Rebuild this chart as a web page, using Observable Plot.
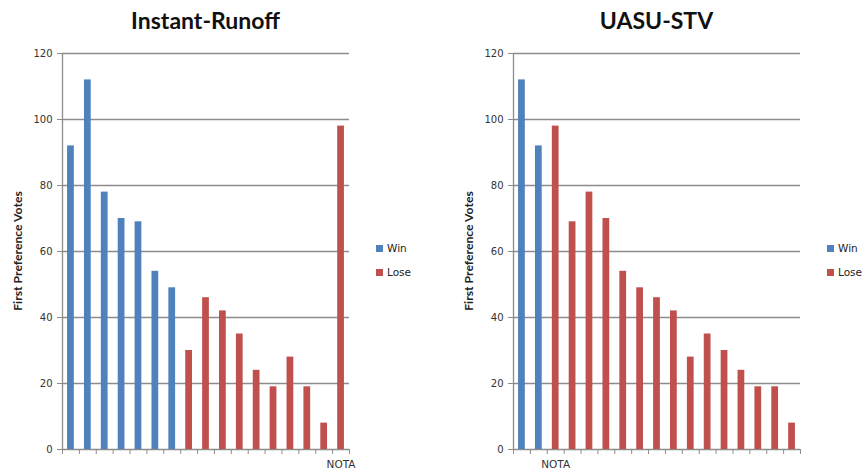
<!DOCTYPE html>
<html>
<head>
<meta charset="utf-8">
<script src="https://cdn.jsdelivr.net/npm/d3@7"></script>
<script src="https://cdn.jsdelivr.net/npm/@observablehq/plot@0.6"></script>
<style>
  html, body { margin: 0; padding: 0; background: #fff; }
  #root { position: relative; width: 867px; height: 476px; font-family: Lato, "Open Sans", sans-serif; color: #222; }
  .panel { position: absolute; top: 0; width: 360px; height: 476px; }
  .title { position: absolute; top: 0; left: 0; width: 100%; height: 40px; font-weight: bold; font-size: 23px; line-height: 40px; color: #111; }
  .plot { position: absolute; top: 40px; left: 0; }
  .ylabel { position: absolute; font-family: Lato, sans-serif; font-size: 12.2px; font-weight: bold; white-space: nowrap; color: #222;
            transform: translate(-50%, -50%) rotate(-90deg); }
  .legend { position: absolute; font-family: "DejaVu Sans", sans-serif; font-size: 10.5px; color: #222; }
  .legend div { position: relative; height: 24px; line-height: 12px; white-space: nowrap; }
  .legend span.sw { display: inline-block; width: 7px; height: 7px; margin-right: 4px; }
</style>
</head>
<body>
<div id="root"></div>
<script>
// ---- data ----
const titles = ["Instant-Runoff", "UASU-STV"];
const yLabel = "First Preference Votes";
const yTicks = [0, 20, 40, 60, 80, 100, 120];
const outcomes = ["Win", "Lose"];
const outcomeColors = ["#4F81BD", "#C0504D"];

const irvVotes  = [92, 112, 78, 70, 69, 54, 49, 30, 46, 42, 35, 24, 19, 28, 19, 8, 98];
const irvResult = ["Win","Win","Win","Win","Win","Win","Win","Lose","Lose","Lose","Lose","Lose","Lose","Lose","Lose","Lose","Lose"];
const irvLabels = ["","","","","","","","","","","","","","","","","NOTA"];

const stvVotes  = [112, 92, 98, 69, 78, 70, 54, 49, 46, 42, 28, 35, 30, 24, 19, 19, 8];
const stvResult = ["Win","Win","Lose","Lose","Lose","Lose","Lose","Lose","Lose","Lose","Lose","Lose","Lose","Lose","Lose","Lose","Lose"];
const stvLabels = ["","","NOTA","","","","","","","","","","","","","",""];

// ---- layout ----
const panels = [
  {left: 0,   votes: irvVotes, result: irvResult, labels: irvLabels, marginLeft: 62, marginRight: 11, legendLeft: 376},
  {left: 450, votes: stvVotes, result: stvResult, labels: stvLabels, marginLeft: 63, marginRight: 10, legendLeft: 377}
];

const gray = "#8c8c8c";
const root = document.getElementById("root");

panels.forEach((p, k) => {
  const n = p.votes.length;
  const data = p.votes.map((v, i) => ({i, v, r: p.result[i], label: p.labels[i]}));
  const W = 360, H = 436;
  const chart = Plot.plot({
    width: W, height: H,
    marginLeft: p.marginLeft, marginRight: p.marginRight, marginTop: 13, marginBottom: 27,
    style: {fontFamily: "'DejaVu Sans', sans-serif", fontSize: "10px", color: "#333", background: "transparent"},
    x: {domain: [0, n]},
    y: {domain: [0, 120]},
    color: {domain: outcomes, range: outcomeColors},
    marks: [
      Plot.ruleY(yTicks, {stroke: gray, strokeWidth: 1.3}),
      Plot.ruleX([0], {stroke: gray, strokeWidth: 1.3}),
      Plot.axisY({ticks: yTicks, tickSize: 5, tickPadding: 5, label: null, stroke: gray, strokeOpacity: 1, fill: "#333"}),
      Plot.axisX({ticks: d3.range(n + 1), tickSize: 5, tickFormat: () => "", label: null, stroke: gray, strokeOpacity: 1}),
      Plot.rectY(data, {x1: d => d.i + 0.3, x2: d => d.i + 0.7, y1: 0, y2: "v", fill: "r"}),
      Plot.text(data.filter(d => d.label), {x: d => d.i + 0.5, y: 0, text: "label", dy: 15, fill: "#333", fontSize: 10.5})
    ]
  });

  const panel = document.createElement("div");
  panel.className = "panel";
  panel.style.left = p.left + "px";
  panel.style.width = "420px";

  const t = document.createElement("div");
  t.className = "title";
  t.textContent = titles[k];
  t.style.width = (W - p.marginLeft - p.marginRight) + "px";
  t.style.left = p.marginLeft + "px";
  t.style.textAlign = "center";
  t.style.top = "0px";
  panel.appendChild(t);

  chart.classList.add("plot");
  chart.style.position = "absolute";
  chart.style.top = "40px";
  chart.style.left = "0px";
  panel.appendChild(chart);

  const yl = document.createElement("div");
  yl.className = "ylabel";
  yl.textContent = yLabel;
  yl.style.left = (p.marginLeft - 45) + "px";
  yl.style.top = "251px";
  panel.appendChild(yl);

  const lg = document.createElement("div");
  lg.className = "legend";
  lg.style.left = p.legendLeft + "px";
  lg.style.top = "242px";
  outcomes.forEach((o, j) => {
    const row = document.createElement("div");
    const sw = document.createElement("span");
    sw.className = "sw";
    sw.style.background = outcomeColors[j];
    row.appendChild(sw);
    row.appendChild(document.createTextNode(o));
    lg.appendChild(row);
  });
  panel.appendChild(lg);

  root.appendChild(panel);
});
</script>
</body>
</html>
